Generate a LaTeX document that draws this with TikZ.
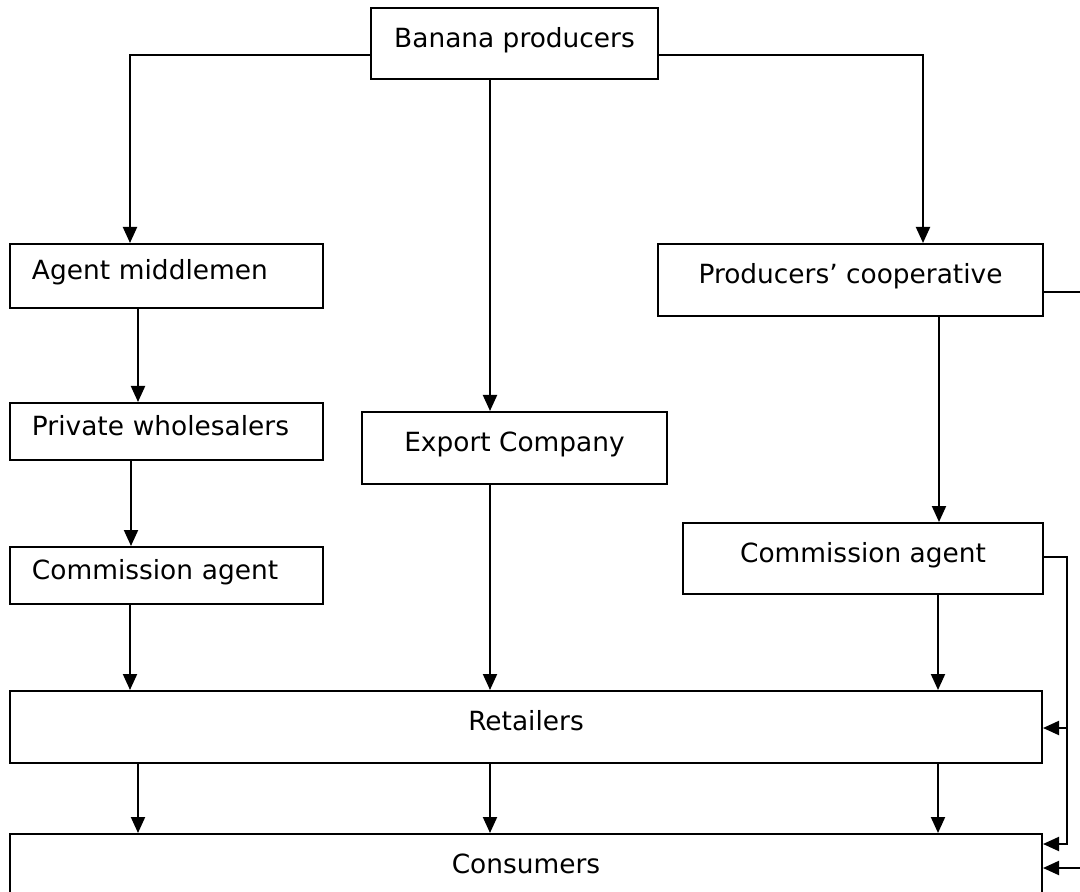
\documentclass[tikz,border=0pt]{standalone}
\usepackage{fontspec}
\setmainfont{DejaVu Sans}
\usetikzlibrary{arrows.meta}
\begin{document}
\begin{tikzpicture}[x=.5pt,y=-.5pt,line width=1pt,
  box/.style={draw,rectangle,inner sep=0pt,text height=10.1pt,text depth=6.5pt,
    font=\fontsize{13.2}{15}\selectfont},
  lbox/.style={box,align=left,text width=134.5pt,minimum width=156.5pt},
  arr/.style={-{Triangle[length=8pt,width=7pt]}}]
  \path[use as bounding box,clip] (0,0) rectangle (1080,892);
  \node[box,minimum width=143.5pt,minimum height=35.5pt] (prod) at (514.5,43.5) {Banana producers};
  \node[lbox,minimum height=32pt] (agent) at (166.5,276) {Agent middlemen};
  \node[box,minimum width=192.5pt,minimum height=36pt] (coop) at (850.5,280) {Producers’ cooperative};
  \node[lbox,minimum height=28.5pt] (whole) at (166.5,431.5) {Private wholesalers};
  \node[box,minimum width=152.5pt,minimum height=36pt] (export) at (514.5,448) {Export Company};
  \node[lbox,minimum height=28.5pt] (commL) at (166.5,575.5) {Commission agent};
  \node[box,minimum width=180pt,minimum height=35.5pt] (commR) at (863,558.5) {Commission agent};
  \node[box,minimum width=516pt,minimum height=36pt] (retail) at (526,727) {Retailers};
  \node[box,minimum width=516pt,minimum height=36pt] (cons) at (526,870) {Consumers};
  \coordinate (railtop) at (1067,557);
  \coordinate (railmid) at (1067,728);
  \coordinate (railbot) at (1067,844);
  \coordinate (outtop) at (1095,292);
  \coordinate (outbot) at (1095,868);
  \draw[arr] (prod.west |- 0,55) -| (agent.north -| 130,0);
  \draw[arr] (prod.south -| 490,0) -- (export.north -| 490,0);
  \draw[arr] (prod.east |- 0,55) -| (coop.north -| 923,0);
  \draw[arr] (agent.south -| 138,0) -- (whole.north -| 138,0);
  \draw[arr] (whole.south -| 131,0) -- (commL.north -| 131,0);
  \draw[arr] (commL.south -| 130,0) -- (retail.north -| 130,0);
  \draw[arr] (export.south -| 490,0) -- (retail.north -| 490,0);
  \draw[arr] (coop.south -| 939,0) -- (commR.north -| 939,0);
  \draw[arr] (commR.south -| 938,0) -- (retail.north -| 938,0);
  \draw[arr] (retail.south -| 138,0) -- (cons.north -| 138,0);
  \draw[arr] (retail.south -| 490,0) -- (cons.north -| 490,0);
  \draw[arr] (retail.south -| 938,0) -- (cons.north -| 938,0);
  \draw[arr] (commR.east |- railtop) -- (railtop) -- (railbot) -- (cons.east |- railbot);
  \draw[arr] (railmid) -- (retail.east |- railmid);
  \draw[arr] (coop.east |- outtop) -- (outtop) -- (outbot) -- (cons.east |- outbot);
\end{tikzpicture}
\end{document}
